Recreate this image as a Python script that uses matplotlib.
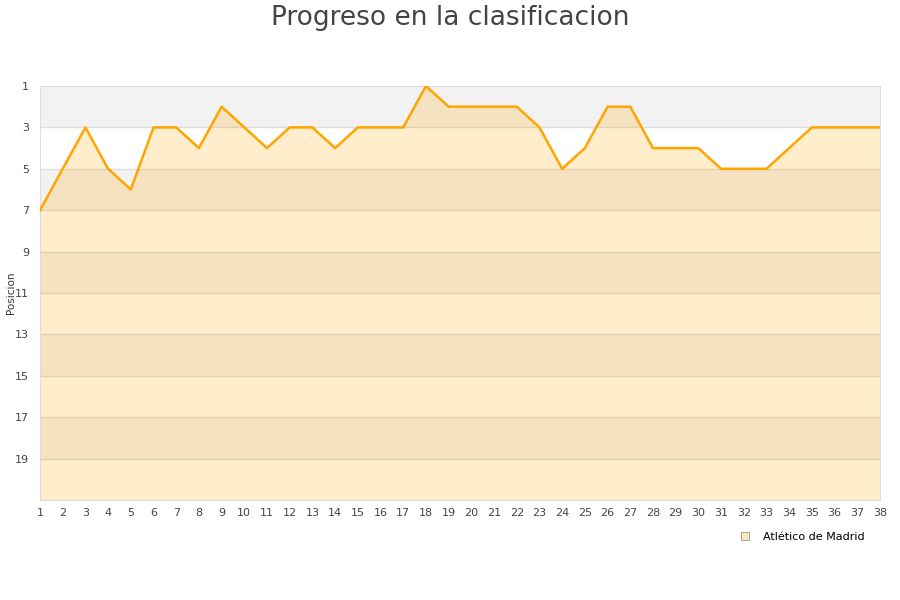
import matplotlib.pyplot as plt

jornadas = list(range(1, 39))
posicion = [7, 5, 3, 5, 6, 3, 3, 4, 2, 3, 4, 3, 3, 4, 3, 3, 3, 1, 2, 2,
            2, 2, 3, 5, 4, 2, 2, 4, 4, 4, 5, 5, 5, 4, 3, 3, 3, 3]
y_ticks = [1, 3, 5, 7, 9, 11, 13, 15, 17, 19]
equipo = "Atlético de Madrid"

fig = plt.figure(figsize=(9, 6), dpi=100)
ax = fig.add_axes([40 / 900, 1 - 500 / 600, 840 / 900, 414 / 600])

# alternating bands
for i, t in enumerate(y_ticks):
    if i % 2 == 0:
        ax.axhspan(t, t + 2, color="#f2f2f2", zorder=0, lw=0)
for t in y_ticks[1:]:
    ax.axhline(t, color="#dddddd", lw=1, zorder=1)

ax.fill_between(jornadas, posicion, 21, color="#ffa500", alpha=0.2, lw=0, zorder=2)
ax.plot(jornadas, posicion, color="#ffa500", lw=1.8, zorder=3)

ax.set_xlim(1, 38)
ax.set_ylim(21, 1)
ax.set_xticks(jornadas)
ax.set_yticks(y_ticks)
ax.tick_params(axis="both", length=0, labelsize=8, labelcolor="#444444")
ax.tick_params(axis="x", pad=6)
ax.tick_params(axis="y", pad=8)
for s in ax.spines.values():
    s.set_color("#dddddd")
fig.text(11 / 900, 1 - 293 / 600, "Posicion", rotation=90, fontsize=7.5,
         color="#333333", ha="center", va="center")

fig.suptitle("Progreso en la clasificacion", fontsize=19, color="#444444", y=0.992)

fig.legend(handles=[plt.Line2D([], [], ls="", marker="s", markersize=6,
                               markerfacecolor="#fee6bf", markeredgecolor="#999999",
                               markeredgewidth=0.6, label=equipo)],
           loc="center", bbox_to_anchor=(799 / 900, 1 - 537 / 600), frameon=False,
           fontsize=8, handletextpad=0.6)

fig.savefig("out.png", dpi=100)
